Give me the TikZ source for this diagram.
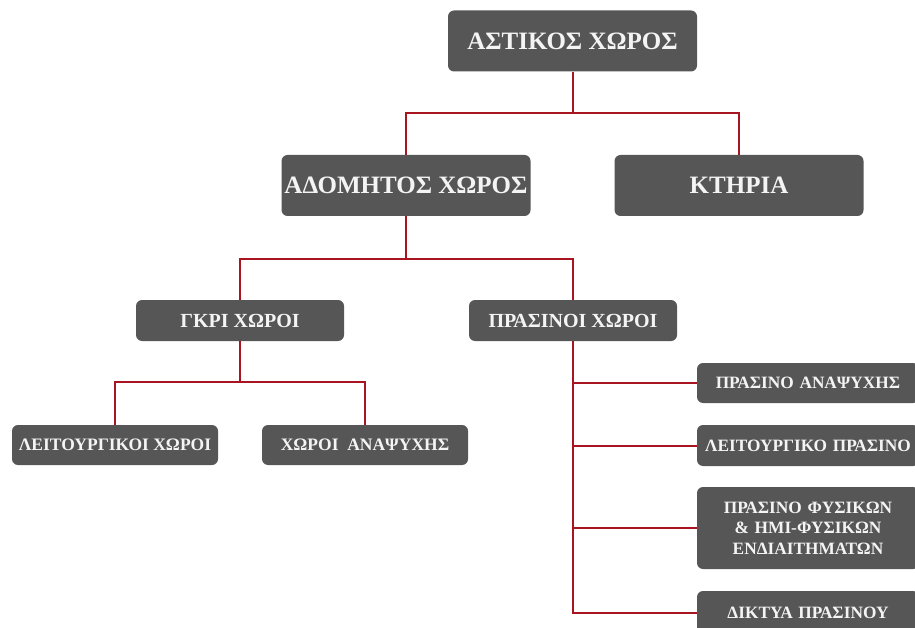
\documentclass[tikz,border=0pt]{standalone}
\usepackage{fontspec}
\setmainfont{Liberation Serif}
\definecolor{boxgray}{HTML}{565656}
\definecolor{linkred}{HTML}{A8141F}
\definecolor{boxtext}{HTML}{F4F4F4}
\begin{document}
\begin{tikzpicture}[x=1pt,y=-1pt,
  box/.style={fill=boxgray, rounded corners=6pt, text=boxtext, inner sep=0pt, align=center},
  lvlA/.style={box, minimum width=249pt, minimum height=61pt, font=\bfseries\fontsize{25}{29}\selectfont},
  lvlB/.style={box, minimum width=208pt, minimum height=41pt, font=\bfseries\fontsize{20}{23}\selectfont},
  lvlC/.style={box, minimum width=206pt, minimum height=40pt, font=\bfseries\fontsize{17.5}{21}\selectfont},
  lvlR/.style={box, minimum width=222pt, text width=218pt, font=\bfseries\fontsize{17.3}{20.5}\selectfont},
  link/.style={draw=linkred, line width=2pt}]
\useasboundingbox (0,0) rectangle (915,628);
\clip (0,0) rectangle (915,628);
% nodes
\node[lvlA] (top)  at (572.5,41)   {ΑΣΤΙΚΟΣ ΧΩΡΟΣ};
\node[lvlA] (adom) at (406,185.5)  {ΑΔΟΜΗΤΟΣ ΧΩΡΟΣ};
\node[lvlA] (kt)   at (739,185.5)  {ΚΤΗΡΙΑ};
\node[lvlB] (gkri) at (240,320.5)  {ΓΚΡΙ ΧΩΡΟΙ};
\node[lvlB] (pras) at (573,320.5)  {ΠΡΑΣΙΝΟΙ ΧΩΡΟΙ};
\node[lvlC] (leit) at (115,445)    {ΛΕΙΤΟΥΡΓΙΚΟΙ ΧΩΡΟΙ};
\node[lvlC] (anap) at (365,445)    {ΧΩΡΟΙ\ \ ΑΝΑΨΥΧΗΣ};
\node[lvlR, minimum height=40pt] (r1) at (808,383)   {ΠΡΑΣΙΝΟ ΑΝΑΨΥΧΗΣ};
\node[lvlR, minimum height=41pt] (r2) at (808,445.5) {ΛΕΙΤΟΥΡΓΙΚΟ ΠΡΑΣΙΝΟ};
\node[lvlR, minimum height=82pt] (r3) at (808,528)   {ΠΡΑΣΙΝΟ ΦΥΣΙΚΩΝ\\ \& ΗΜΙ-ΦΥΣΙΚΩΝ\\ ΕΝΔΙΑΙΤΗΜΑΤΩΝ};
\node[lvlR, minimum height=44pt] (r4) at (808,613)   {ΔΙΚΤΥΑ ΠΡΑΣΙΝΟΥ};
% bus coordinates
\coordinate (b1) at (572.5,113);
\coordinate (b2) at (406,259);
\coordinate (b3) at (240,382);
% connectors
\draw[link] (top.south) -- (b1);
\draw[link] (adom.north) |- (b1) -| (kt.north);
\draw[link] (adom.south) -- (b2);
\draw[link] (gkri.north) |- (b2) -| (pras.north);
\draw[link] (gkri.south) -- (b3);
\draw[link] (leit.north) |- (b3) -| (anap.north);
\draw[link] (pras.south) |- (r1.west);
\draw[link] (pras.south) |- (r2.west);
\draw[link] (pras.south) |- (r3.west);
\draw[link] (pras.south) |- (r4.west);
\end{tikzpicture}
\end{document}
